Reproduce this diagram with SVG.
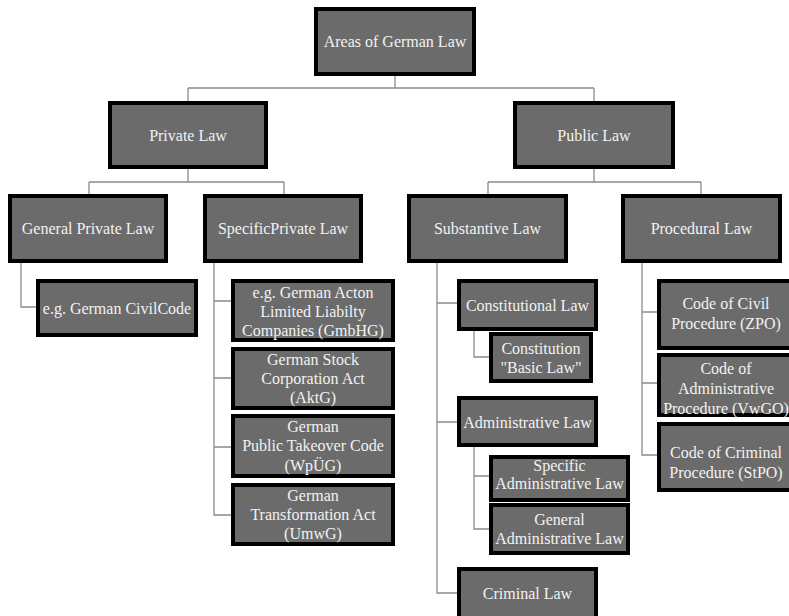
<svg xmlns="http://www.w3.org/2000/svg" width="789" height="616" viewBox="0 0 789 616">
<style>
.box{fill:#6b6b6b;stroke:#000;stroke-width:4}
.t{font-family:"Liberation Serif","Times New Roman",serif;font-size:16px;fill:#f2f2f2;text-anchor:middle}
.c{fill:none;stroke:#8a8a8a;stroke-width:1.3}
</style>
<rect width="789" height="616" fill="#fff"/>
<g id="connectors">
<path class="c" d="M395,76 V88 M188,88 H594 M188,88 V101 M594,88 V101"/>
<path class="c" d="M188,169 V182 M89,182 H284 M89,182 V194 M284,182 V194"/>
<path class="c" d="M594,169 V182 M488,182 H701 M488,182 V194 M701,182 V194"/>
<path class="c" d="M21,263 V307 H36"/>
<path class="c" d="M214,263 V515 H231 M214,301 H231 M214,378 H231 M214,447 H231"/>
<path class="c" d="M437,263 V593 H457 M437,303 H457 M437,422 H457"/>
<path class="c" d="M474,331 V357 H489"/>
<path class="c" d="M474,447 V529 H489 M474,476 H489"/>
<path class="c" d="M642,263 V455 H657 M642,312 H657 M642,383 H657"/>
</g>
<g id="root"><rect class="box" x="316" y="9" width="158" height="65"/><text class="t" x="395" y="47">Areas of German Law</text></g>
<g id="private"><rect class="box" x="110" y="103" width="156" height="64"/><text class="t" x="188" y="140.5">Private Law</text></g>
<g id="public"><rect class="box" x="515" y="103" width="158" height="64"/><text class="t" x="594" y="140.5">Public Law</text></g>
<g id="general-private"><rect class="box" x="10" y="196" width="156" height="65"/><text class="t" x="88" y="233.5">General Private Law</text></g>
<g id="specific-private"><rect class="box" x="205" y="196" width="156" height="65"/><text class="t" x="283" y="233.5">SpecificPrivate Law</text></g>
<g id="substantive"><rect class="box" x="409" y="196" width="157" height="65"/><text class="t" x="487.5" y="233.5">Substantive Law</text></g>
<g id="procedural"><rect class="box" x="623" y="196" width="157" height="65"/><text class="t" x="701.5" y="233.5">Procedural Law</text></g>
<g id="civilcode"><rect class="box" x="38" y="281" width="158" height="54"/><text class="t" x="117" y="313.5">e.g. German CivilCode</text></g>
<g id="gmbhg"><rect class="box" x="233" y="281" width="160" height="59"/><text class="t" x="313" y="297.5">e.g. German Acton</text><text class="t" x="313" y="316.5">Limited Liabilty</text><text class="t" x="313" y="335.5">Companies (GmbHG)</text></g>
<g id="aktg"><rect class="box" x="233" y="349" width="160" height="59"/><text class="t" x="313" y="364.5">German Stock</text><text class="t" x="313" y="383.5">Corporation Act</text><text class="t" x="313" y="403">(AktG)</text></g>
<g id="wpug"><rect class="box" x="233" y="416" width="160" height="60"/><text class="t" x="313" y="431.5">German</text><text class="t" x="313" y="451">Public Takeover Code</text><text class="t" x="313" y="470.5">(WpÜG)</text></g>
<g id="umwg"><rect class="box" x="233" y="485" width="160" height="59"/><text class="t" x="313" y="500.5">German</text><text class="t" x="313" y="519.5">Transformation Act</text><text class="t" x="313" y="538.5">(UmwG)</text></g>
<g id="constitutional"><rect class="box" x="459" y="281" width="137" height="48"/><text class="t" x="527.5" y="310.5">Constitutional Law</text></g>
<g id="basic-law"><rect class="box" x="491" y="334" width="100" height="47"/><text class="t" x="541" y="353.5">Constitution</text><text class="t" x="541" y="372.5">"Basic Law"</text></g>
<g id="administrative"><rect class="box" x="459" y="398" width="137" height="47"/><text class="t" x="527.5" y="427.5">Administrative Law</text></g>
<g id="specific-admin"><rect class="box" x="491" y="457" width="137" height="43"/><text class="t" x="559.5" y="470.5">Specific</text><text class="t" x="559.5" y="488.5">Administrative Law</text></g>
<g id="general-admin"><rect class="box" x="491" y="505" width="137" height="48"/><text class="t" x="559.5" y="524.5">General</text><text class="t" x="559.5" y="543.5">Administrative Law</text></g>
<g id="criminal"><rect class="box" x="459" y="569" width="137" height="50"/><text class="t" x="527.5" y="598.5">Criminal Law</text></g>
<g id="zpo"><rect class="box" x="659" y="281" width="136" height="67"/><text class="t" x="726" y="308.5">Code of Civil</text><text class="t" x="726" y="328.5">Procedure (ZPO)</text></g>
<g id="vwgo"><rect class="box" x="659" y="355" width="136" height="60"/><text class="t" x="726" y="373.5">Code of</text><text class="t" x="726" y="393.5">Administrative</text><text class="t" x="726" y="413.5">Procedure (VwGO)</text></g>
<g id="stpo"><rect class="box" x="659" y="424" width="136" height="66"/><text class="t" x="726" y="457.5">Code of Criminal</text><text class="t" x="726" y="477.5">Procedure (StPO)</text></g>
</svg>
